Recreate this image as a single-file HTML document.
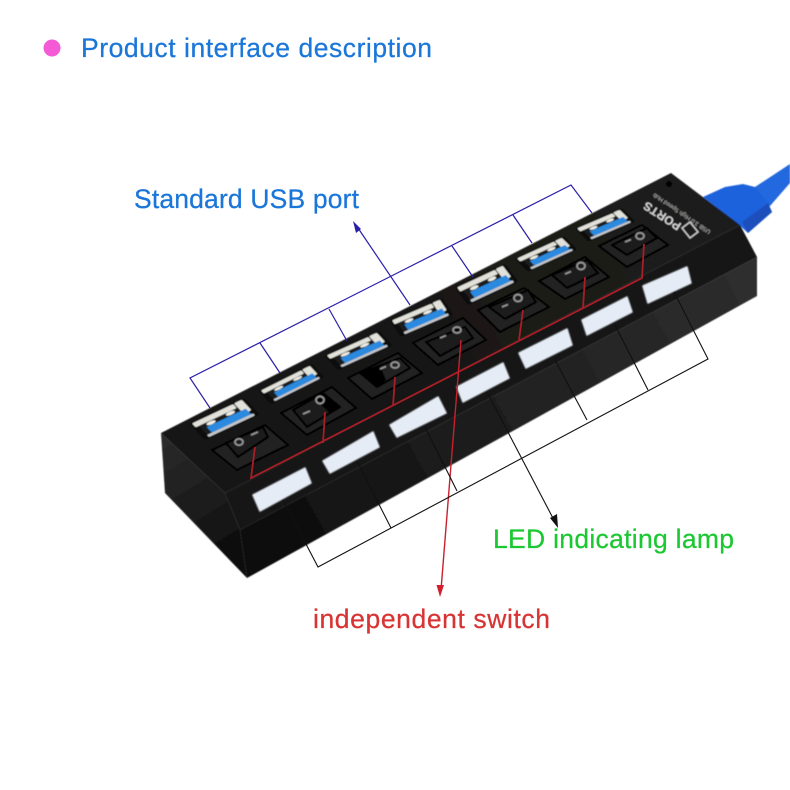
<!DOCTYPE html>
<html><head><meta charset="utf-8"><style>html,body{margin:0;padding:0;background:#fff;width:790px;height:790px;overflow:hidden}svg{display:block}</style></head>
<body>
<svg width="790" height="790" viewBox="0 0 790 790" xmlns="http://www.w3.org/2000/svg">
<defs>
<filter id="b" x="-5%" y="-5%" width="110%" height="110%"><feGaussianBlur stdDeviation="0.6"/></filter>
<filter id="l" x="-20%" y="-20%" width="140%" height="140%"><feGaussianBlur stdDeviation="0.9"/></filter>
<linearGradient id="side" gradientUnits="userSpaceOnUse" x1="165" y1="440" x2="245" y2="570"><stop offset="0" stop-color="#2a2a2a"/><stop offset=".55" stop-color="#1a1a1a"/><stop offset="1" stop-color="#070707"/></linearGradient>
<linearGradient id="low" gradientUnits="userSpaceOnUse" x1="245" y1="560" x2="755" y2="280"><stop offset="0" stop-color="#0c0c0c"/><stop offset=".45" stop-color="#1e1e1e"/><stop offset="1" stop-color="#2e2e2e"/></linearGradient>
<linearGradient id="top" gradientUnits="userSpaceOnUse" x1="190" y1="460" x2="700" y2="200"><stop offset="0" stop-color="#141414"/><stop offset="1" stop-color="#1f1e1b"/></linearGradient>
<g id="p">
<rect x="-6" y="-8" width="112" height="116" rx="10" fill="#0c0c0c"/>
<rect x="-2" y="0" width="84" height="26" rx="4" fill="#e2e2da"/>
<rect x="84" y="-2" width="16" height="70" rx="5" fill="#e2e2da"/>
<rect x="4" y="27" width="80" height="62" fill="#1a1a1a"/>
<circle cx="26" cy="38" r="9" fill="#ecece4"/><circle cx="66" cy="36" r="9" fill="#ecece4"/>
<rect x="14" y="48" width="80" height="38" fill="#2b8ae0"/>
<rect x="4" y="86" width="94" height="14" rx="3" fill="#c4c8cc"/>
</g>
</defs>

<circle cx="52" cy="48" r="8.5" fill="#f45ad6"/>

<g filter="url(#b)">
<!-- cable -->
<polygon points="755,187 790,164 790,183 770,206 760,205" fill="#2468de"/>
<polygon points="703,197 725,187 743,184 755,187 768,203 772,212 748,233 738,224" fill="#1f62dc"/>
<polygon points="742,222 768,203 772,212 748,233" fill="#1a50bc"/>
<!-- body -->
<polygon points="161,433 671,173 740,225 225,493" fill="url(#top)"/>
<polygon points="161,433 225,493 240,530 247,578 165,493" fill="url(#side)"/>
<polygon points="225,493 740,225 757,257 240,530" fill="#121212"/>
<polygon points="240,530 757,257 757,296 247,578" fill="url(#low)"/>
<circle cx="669" cy="184" r="3" fill="#000"/>
<text transform="translate(682,224) rotate(-147)" font-family="'Liberation Sans',sans-serif" font-size="12" font-weight="bold" fill="#d4d4d4" textLength="42">PORTS</text>
<text transform="translate(711,231) rotate(-146)" font-family="'Liberation Sans',sans-serif" font-size="6" fill="#b8b8b8" textLength="68">USB 3.0 High Speed Hub</text>
<polygon points="690,222 698,232 690,238 682,228" fill="none" stroke="#c8c8c8" stroke-width="1.5"/>
<!-- ports -->
<use href="#p" transform="matrix(.49 -.23 .14 .15 193 423)"/>
<use href="#p" transform="matrix(.48 -.24 .11 .12 262 390)"/>
<use href="#p" transform="matrix(.49 -.22 .12 .13 328 355)"/>
<use href="#p" transform="matrix(.47 -.2 .1 .15 393 320)"/>
<use href="#p" transform="matrix(.45 -.21 .12 .16 458 287)"/>
<use href="#p" transform="matrix(.44 -.2 .12 .12 518 258)"/>
<use href="#p" transform="matrix(.42 -.18 .12 .12 578 228)"/>
<!-- switch plates -->
<g fill="#222" stroke="#050505" stroke-width="2">
<polygon points="212,450 265,425 288,445 237,470"/>
<polygon points="281,413 332,387 356,408 307,435"/>
<polygon points="348,378 398,353 422,373 372,399"/>
<polygon points="413,343 463,318 486,340 438,365"/>
<polygon points="478,310 524,288 549,307 500,332"/>
<polygon points="539,281 585,257 609,277 565,299"/>
<polygon points="599,246 642,225 668,245 627,267"/>
</g>
<!-- rockers -->
<g fill="#1a1a1a" stroke="#020202" stroke-width="2">
<polygon points="226,443 263,427 268,437 238,457"/>
<polygon points="293,410 323,393 340,407 307,427"/>
<polygon points="360,373 400,358 410,368 377,387" fill="#222"/>
<polygon points="426,342 465,327 473,338 440,356"/>
<polygon points="489,307 528,290 536,302 505,319"/>
<polygon points="552,275 587,260 598,273 567,288"/>
<polygon points="612,245 647,228 657,238 627,255"/>
</g>
<polygon points="360,373 380,365 386,380 377,387" fill="#060606"/>
<polygon points="323,393 340,407 330,413 316,400" fill="#060606"/>
<g fill="none" stroke="#9a9a9a" stroke-width="1.7">
<ellipse cx="239" cy="442" rx="4" ry="3.2"/><ellipse cx="320" cy="400" rx="4" ry="3.6"/><ellipse cx="395" cy="365" rx="4" ry="3"/><ellipse cx="457" cy="330" rx="4" ry="3"/><ellipse cx="518" cy="298" rx="4" ry="3.5"/><ellipse cx="581" cy="266" rx="4" ry="3.5"/><ellipse cx="640" cy="236" rx="4" ry="3.2"/>
<path d="M251 435l7-3M303 414l7-3M380 369l6-2.500M440 338l6-2.500M502 307l6-2.500M565 274l6-2.500M625 242l6-2.500"/>
</g>
</g>
<!-- lamps -->
<g fill="#e6ecf6" stroke="#e6ecf6" stroke-width="1.500" stroke-linejoin="round" filter="url(#l)">
<polygon points="253,495 305,468 311,483 260,511"/>
<polygon points="323,461 373,432 379,447 330,473"/>
<polygon points="390,425 438,397 446,413 397,437"/>
<polygon points="457,387 503,363 509,378 463,402"/>
<polygon points="519,353 567,329 572,345 526,368"/>
<polygon points="582,320 627,297 632,312 587,335"/>
<polygon points="643,286 687,267 691,283 648,303"/>
</g>
<!-- blue lines -->
<g fill="none" stroke="#2a1fa8" stroke-width="1.2">
<path d="M210 408L190 378L571 185L592 213"/>
<path d="M260 343L280 373M329 309L347 341M452 246L473 277M513 215L532 243"/>
<path d="M410 305L358 228"/>
</g>
<polygon points="353,221 361,229 356,233" fill="#2a1fa8"/>
<!-- red lines -->
<g fill="none" stroke="#a81e26" stroke-width="1.8">
<path d="M255 447L251 478L642 278L644 244"/>
<path d="M325 412L323 443M395 377L393 406M523 310L519 340M585 277L583 308"/>
<path d="M461 340L441 590" stroke-width="1.4" stroke="#c8202e"/>
</g>
<polygon points="440,597 436.500,585 444,585" fill="#d02030"/>
<!-- black lines -->
<g fill="none" stroke="#111" stroke-width="1.1">
<path d="M283 500L318 567L708 359L674 292"/>
<path d="M357 461L391 528M425 427L457 491M555 360L587 420M615 325L648 390"/>
<path d="M487 392L555 522"/>
</g>
<polygon points="558,528 550,518 557,514" fill="#111"/>

<g font-family="'Liberation Sans',sans-serif" font-size="26.5" lengthAdjust="spacing" stroke-width=".25">
<text x="81" y="57" fill="#1a76d8" stroke="#1a76d8" textLength="351">Product interface description</text>
<text x="134" y="208" fill="#1a76d8" stroke="#1a76d8" textLength="225">Standard USB port</text>
<text x="493" y="548" fill="#1cc832" stroke="#1cc832" textLength="241">LED indicating lamp</text>
<text x="313" y="628" fill="#d83434" stroke="#d83434" textLength="237">independent switch</text>
</g>
</svg>
</body></html>
